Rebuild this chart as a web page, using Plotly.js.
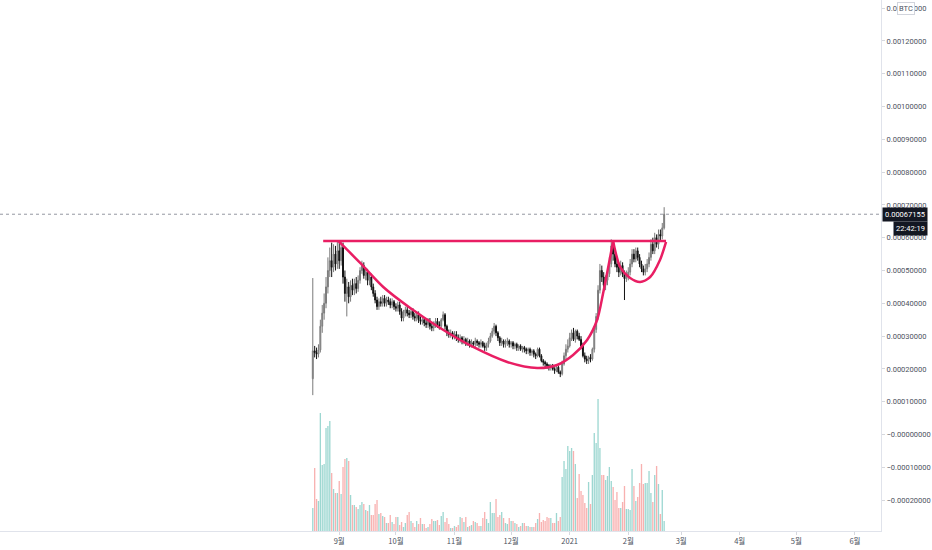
<!DOCTYPE html>
<html>
<head>
<meta charset="utf-8">
<script src="https://cdn.plot.ly/plotly-3.0.1.min.js"></script>
<style>
html,body{margin:0;padding:0;background:#fff;}
#chart{width:932px;height:550px;}
</style>
</head>
<body>
<div id="chart"></div>
<script>
// ---- data (prices in satoshi, 1 sat = 1e-8 BTC) ----
const START_DATE = '2020-08-18';
const SAT = 1e-8;
const LAST_PRICE = 67155;
const LAST_PRICE_LABEL = '0.00067155';
const COUNTDOWN = '22:42:19';
const QUOTE = 'BTC';

const openSat = [17000,25500,25000,24500,25800,33000,37000,40000,45000,50000,
53000,51000,55000,52000,56000,53000,57000,48000,43000,45000,
42000,45500,44000,46000,44500,47000,50000,51500,48500,49500,
47000,48000,45000,43000,41000,39000,40500,40000,41500,40000,
41000,40500,39500,40500,39000,38500,39500,37500,35500,37000,
38000,37000,36500,37500,36000,35500,36500,35000,34500,35000,
34000,33500,34500,33000,32500,33500,34500,33500,33000,35000,
36500,33000,31000,30500,31000,30000,30500,29500,29000,29500,
28500,29000,28000,28500,27500,28000,27500,28500,28000,27500,
28000,27000,26500,27500,28500,30000,31500,33000,31000,29500,
28000,28500,27500,28000,28500,27500,28000,27000,27500,26500,
27000,26000,26500,26000,25500,26000,25000,25500,24500,24000,
26000,24000,22500,22000,21500,21000,20500,21000,20000,19500,
20500,19000,18500,21500,24000,26000,27000,29500,31000,29000,
31500,30000,29000,27000,24000,23000,22500,23500,23000,26000,
32000,36000,44000,50000,48000,45500,47000,49000,52000,57500,
55000,52000,51000,49500,51500,49000,47500,48500,49500,52000,
55000,53500,56000,54000,52000,50500,49500,50500,52000,54000,
58000,56000,60000,58000,61000,60500,63000];

const highSat = [47700,27000,26500,27500,35000,39500,43000,48000,54000,57000,
58500,58000,57500,59000,59200,59000,58500,50000,47500,46500,
47000,47500,47500,48000,48500,51000,53000,52500,51000,50500,
49500,49000,46000,44000,42000,41500,42000,42500,42500,42000,
42000,41500,41500,41000,40000,40500,40500,38500,38000,39000,
39000,38000,38500,38500,37000,37500,37500,36000,36000,35500,
35000,35500,35500,34000,34500,35500,35500,34500,35500,37500,
37000,33500,32000,32000,31500,31500,31500,30500,30500,30000,
30000,29500,29500,29000,29000,28500,29500,29000,28500,29000,
28500,28000,28000,29500,31000,32500,34000,33500,31500,30000,
29500,29000,29000,29500,29000,28500,28500,28000,28000,27500,
27500,27000,27000,26500,26500,26500,26000,26000,25000,26500,
26500,24500,23000,22500,22000,21500,21500,21500,20500,21000,
21000,19500,22500,25000,27500,29000,31000,32000,32500,32000,
32000,31000,30000,28000,25000,24000,24000,24500,26500,33000,
37000,45500,52000,51500,49500,48500,50500,54000,59500,58500,
56000,54000,52500,53000,52500,50000,50000,51000,53500,56500,
56500,57000,57000,55000,53000,51500,52000,53500,55500,59500,
60000,61500,61000,62500,62500,64500,69300];

const lowSat = [12000,23500,23000,23500,25000,31000,35000,38500,43000,48000,
48000,49500,50000,50500,50500,51500,46000,40500,36000,40000,
40500,42500,42500,43000,43500,46000,49000,47500,47000,45500,
45500,44000,42000,40000,38000,38000,39000,39000,39000,39000,
39500,38500,38500,38000,37500,37500,36500,34500,34500,36000,
36000,35500,35500,35000,34500,34500,34000,33500,33500,33000,
32500,32500,32000,31500,31500,32500,32500,32000,32500,34500,
32000,30000,29500,29500,29000,29000,28500,28000,28000,27500,
27500,27000,27000,26500,26500,26500,26500,27000,26500,26500,
26500,25500,25500,26500,28000,29500,30500,30000,28500,27000,
27000,26500,26500,27000,26500,26500,26000,26000,25500,25500,
25500,25000,25000,24500,24500,24000,24000,23500,23000,23500,
23500,22000,21000,20500,20000,19500,19500,19500,18500,19000,
18500,17500,18000,21000,23000,25000,26500,28500,28500,28000,
29000,28500,26000,23500,22000,21500,21500,22000,22500,25000,
31000,35000,43000,46500,44000,44000,45500,48000,51000,53000,
51000,49500,48000,48500,48000,41000,46500,47000,48500,51000,
52500,52500,53000,51000,49500,48500,48500,49500,51000,53000,
55000,55000,57000,56500,59000,59500,62500];

const closeSat = [25500,25000,24500,25800,33000,37000,40000,45000,50000,53000,
51000,55000,52000,56000,53000,57000,48000,43000,45000,42000,
45500,44000,46000,44500,47000,50000,51500,48500,49500,47000,
48000,45000,43000,41000,39000,40500,40000,41500,40000,41000,
40500,39500,40500,39000,38500,39500,37500,35500,37000,38000,
37000,36500,37500,36000,35500,36500,35000,34500,35000,34000,
33500,34500,33000,32500,33500,34500,33500,33000,35000,36500,
33000,31000,30500,31000,30000,30500,29500,29000,29500,28500,
29000,28000,28500,27500,28000,27500,28500,28000,27500,28000,
27000,26500,27500,28500,30000,31500,33000,31000,29500,28000,
28500,27500,28000,28500,27500,28000,27000,27500,26500,27000,
26000,26500,26000,25500,26000,25000,25500,24500,24000,26000,
24000,22500,22000,21500,21000,20500,21000,20000,19500,20500,
19000,18500,21500,24000,26000,27000,29500,31000,29000,31500,
30000,29000,27000,24000,23000,22500,23500,23000,26000,32000,
36000,44000,50000,48000,45500,47000,49000,52000,57500,55000,
52000,51000,49500,51500,49000,47500,48500,49500,52000,55000,
53500,56000,54000,52000,50500,49500,50500,52000,54000,58000,
56000,60000,58000,61000,60500,63000,67155];

// volume (thousands)
const volume = [23,63,32,30,118,66,67,103,105,110,
58,42,38,38,50,37,64,72,73,70,
36,26,26,24,22,26,29,27,21,20,
26,16,16,27,31,17,18,15,14,8,
8,16,9,7,14,14,6,9,4,8,
16,19,10,8,4,10,7,13,7,7,
3,4,7,12,10,10,11,6,15,19,
9,13,7,3,3,5,4,6,14,13,
9,14,4,5,6,10,9,8,5,5,
13,19,12,8,29,18,18,32,14,16,
19,13,8,7,13,10,10,8,7,4,
5,8,8,5,5,4,4,4,8,12,
18,9,11,10,14,13,13,8,8,18,
10,14,54,70,62,85,80,83,80,67,
33,57,40,36,28,23,49,27,56,98,
88,132,83,56,56,51,55,64,50,44,
31,39,23,23,29,45,22,22,21,62,
45,30,34,48,67,47,48,48,60,38,
29,56,65,47,17,41,10];

// drawings (trendline + cup & handle anchors)
const resistDates = ['2020-08-23 12:00','2021-02-21 00:00'];
const resistSat = [59000,59000];
const cupDates = ['2020-08-31 12:00','2020-09-12 02:00','2020-09-24 07:00','2020-10-08 14:00','2020-10-24 10:00',
  '2020-11-10 22:00','2020-11-28 22:00','2020-12-14 19:00','2020-12-25 07:00','2021-01-02 19:00',
  '2021-01-10 05:00','2021-01-15 12:00','2021-01-18 17:00','2021-01-22 10:00','2021-01-24 00:00'];
const cupSat = [59000,52300,44970,38570,32470,26680,22110,20280,21190,24240,28810,34910,43140,54120,59000];
const handleDates = ['2021-01-24 00:00','2021-01-25 00:00','2021-01-27 17:00','2021-02-02 00:00','2021-02-07 07:00',
  '2021-02-12 14:00','2021-02-17 19:00','2021-02-21 00:00'];
const handleSat = [59000,56250,51070,47720,46500,48020,53210,58700];

// axis ticks
const monthTickVals = ['2020-09-01','2020-10-01','2020-11-01','2020-12-01','2021-01-01','2021-02-01','2021-03-01','2021-04-01','2021-05-01','2021-06-01'];
const monthTickText = ['9월','10월','11월','12월','2021','2월','3월','4월','5월','6월'];
const priceTickVals = [0.0013,0.0012,0.0011,0.0010,0.0009,0.0008,0.0007,0.0006,0.0005,0.0004,0.0003,0.0002,0.0001,0,-0.0001,-0.0002];
const priceTickText = ['0.00130000','0.00120000','0.00110000','0.00100000','0.00090000','0.00080000','0.00070000','0.00060000','0.00050000','0.00040000','0.00030000','0.00020000','0.00010000','\u22120.00000000','\u22120.00010000','\u22120.00020000'];

// ---- build ----
const dates = [];
{
  const d0 = new Date(START_DATE + 'T00:00:00Z');
  for (let i = 0; i < closeSat.length; i++) {
    const d = new Date(d0.getTime() + i * 86400000);
    dates.push(d.toISOString().slice(0, 10));
  }
}
const toBTC = a => a.map(v => v * SAT);
const volColors = closeSat.map((c, i) => c >= openSat[i] ? 'rgba(38,166,154,0.45)' : 'rgba(239,83,80,0.45)');

const PINK = '#e91e63';
const traces = [
  {
    type: 'bar', x: dates, y: volume, yaxis: 'y2',
    marker: { color: volColors, line: { width: 0 } },
    hoverinfo: 'skip', showlegend: false
  },
  {
    type: 'candlestick', x: dates,
    open: toBTC(openSat), high: toBTC(highSat), low: toBTC(lowSat), close: toBTC(closeSat),
    increasing: { line: { color: '#7a7a7a', width: 1 }, fillcolor: '#b5b5b5' },
    decreasing: { line: { color: '#111111', width: 1 }, fillcolor: '#111111' },
    whiskerwidth: 0, hoverinfo: 'skip', showlegend: false
  },
  {
    type: 'scatter', mode: 'lines', x: resistDates, y: toBTC(resistSat),
    line: { color: PINK, width: 2.5 }, hoverinfo: 'skip', showlegend: false
  },
  {
    type: 'scatter', mode: 'lines', x: cupDates, y: toBTC(cupSat),
    line: { color: PINK, width: 2.5, shape: 'spline', smoothing: 0.8 }, hoverinfo: 'skip', showlegend: false
  },
  {
    type: 'scatter', mode: 'lines', x: handleDates, y: toBTC(handleSat),
    line: { color: PINK, width: 2.5, shape: 'spline', smoothing: 0.8 }, hoverinfo: 'skip', showlegend: false
  }
];

const lastBTC = LAST_PRICE * SAT;
const FONT = 'Roboto, "Noto Sans CJK KR", sans-serif';
const layout = {
  width: 932, height: 550,
  margin: { l: 0, r: 51, t: 0, b: 19, pad: 0 },
  paper_bgcolor: '#ffffff', plot_bgcolor: '#ffffff',
  font: { family: FONT, size: 7.5, color: '#4c525e' },
  showlegend: false,
  bargap: 0.3,
  xaxis: {
    type: 'date',
    range: ['2020-03-05 10:00', '2021-06-14 19:00'],
    tickmode: 'array', tickvals: monthTickVals, ticktext: monthTickText,
    showgrid: false, zeroline: false,
    showline: true, linecolor: '#e0e3eb', linewidth: 1,
    ticks: 'outside', ticklen: 3, tickcolor: '#d6d8de',
    tickfont: { family: '"Noto Sans CJK KR", Roboto, sans-serif', size: 7.5, color: '#4c525e' },
    rangeslider: { visible: false },
    fixedrange: true
  },
  yaxis: {
    side: 'right',
    range: [-0.0002942, 0.0013247],
    tickmode: 'array', tickvals: priceTickVals, ticktext: priceTickText,
    showgrid: false, zeroline: false,
    showline: true, linecolor: '#e0e3eb', linewidth: 1,
    ticks: 'outside', ticklen: 3, tickcolor: '#d6d8de',
    tickfont: { family: FONT, size: 7.5, color: '#4c525e' },
    fixedrange: true
  },
  yaxis2: {
    overlaying: 'y', side: 'right', range: [0, 531], visible: false, fixedrange: true
  },
  shapes: [
    {
      type: 'line', xref: 'paper', x0: 0, x1: 1, yref: 'y', y0: lastBTC, y1: lastBTC,
      line: { color: '#9598a1', width: 1, dash: 'dot' }, layer: 'below'
    }
  ],
  annotations: [
    {
      xref: 'paper', yref: 'y', x: 1, y: lastBTC, xanchor: 'left', yanchor: 'middle',
      text: LAST_PRICE_LABEL, showarrow: false,
      font: { family: FONT, size: 7.5, color: '#ffffff' },
      bgcolor: '#131722', borderpad: 2, xshift: 1
    },
    {
      xref: 'paper', yref: 'paper', x: 1, y: (531 - 228) / 531, xanchor: 'left', yanchor: 'middle',
      text: COUNTDOWN, showarrow: false,
      font: { family: FONT, size: 7.5, color: '#ffffff' },
      bgcolor: '#131722', borderpad: 2, xshift: 12
    },
    {
      xref: 'paper', yref: 'paper', x: 906 / 881, y: (531 - 8.5) / 531, xanchor: 'center', yanchor: 'middle',
      text: QUOTE, showarrow: false,
      font: { family: FONT, size: 7.5, color: '#4c525e' },
      bgcolor: '#ffffff', bordercolor: '#d1d4dc', borderwidth: 1, borderpad: 1
    }
  ]
};

Plotly.newPlot('chart', traces, layout, { displayModeBar: false, staticPlot: true });
</script>
</body>
</html>
